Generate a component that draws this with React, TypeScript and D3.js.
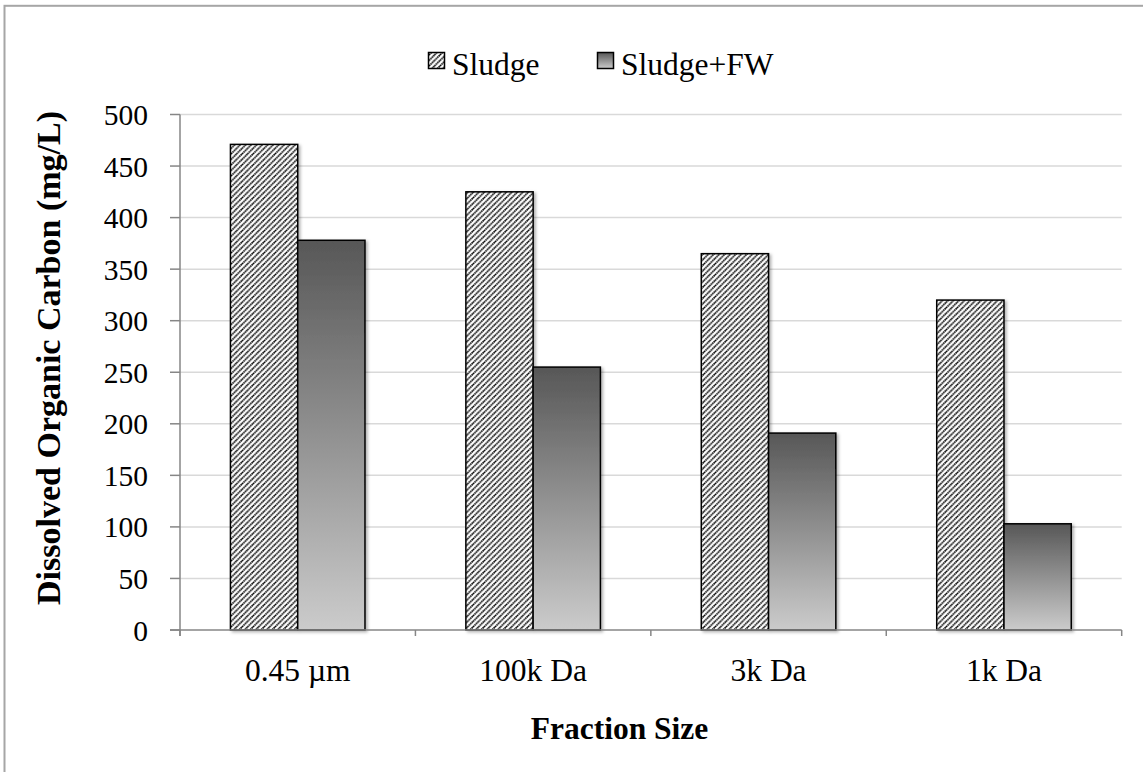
import React from "react";
import * as d3 from "d3";

const categories = ["0.45 µm", "100k Da", "3k Da", "1k Da"];
const seriesNames = ["Sludge", "Sludge+FW"];
const sludge = [471, 425, 365, 320];
const sludgeFW = [378, 255, 191, 103];
const yTicks = [0, 50, 100, 150, 200, 250, 300, 350, 400, 450, 500];

const W = 1143;
const H = 772;
const plot = { left: 180, right: 1121.7, top: 114.5, bottom: 630 };
const FONT = "'Liberation Serif', 'Times New Roman', serif";

export default function App() {
  const x = d3
    .scaleBand<string>()
    .domain(categories)
    .range([plot.left, plot.right])
    .paddingInner(0)
    .paddingOuter(0);
  const y = d3.scaleLinear().domain([0, 500]).range([plot.bottom, plot.top]);

  const step = x.step();
  const barW = step / 3.5; // two bars plus a 150% gap
  const boundaries = d3.range(categories.length + 1).map((i) => plot.left + i * step);

  return (
    <svg
      width={W}
      height={H}
      style={{ position: "absolute", left: 0, top: 0, background: "#fff" }}
      fontFamily={FONT}
    >
      <defs>
        <pattern id="hatch" patternUnits="userSpaceOnUse" width={5.5} height={5.5}>
          <rect width={5.5} height={5.5} fill="#fff" />
          <path
            d="M-1,1 L1,-1 M0,5.5 L5.5,0 M4.5,6.5 L6.5,4.5"
            stroke="#000"
            strokeWidth={1.7}
            strokeDasharray="1.5 0.5"
          />
        </pattern>
        <linearGradient id="fwGrad" x1="0" y1="0" x2="0" y2="1">
          <stop offset="0" stopColor="#575757" />
          <stop offset="1" stopColor="#cbcbcb" />
        </linearGradient>
        <filter id="shadow" x="-20%" y="-20%" width="140%" height="140%">
          <feDropShadow dx="2" dy="1.5" stdDeviation="1.5" floodColor="#000" floodOpacity="0.3" />
        </filter>
      </defs>

      {/* chart area frame */}
      <rect x={4.5} y={5.8} width={W + 20} height={H + 20} fill="none" stroke="#a6a6a6" strokeWidth={2} />

      {/* gridlines */}
      {yTicks
        .filter((t) => t > 0)
        .map((t) => (
          <line key={t} x1={plot.left} x2={plot.right} y1={y(t)} y2={y(t)} stroke="#d9d9d9" strokeWidth={1.5} />
        ))}

      {/* bars */}
      {categories.map((c, i) => {
        const cx = (x(c) as number) + step / 2;
        return (
          <g key={c} filter="url(#shadow)">
            <rect
              x={cx - barW}
              y={y(sludge[i])}
              width={barW}
              height={y(0) - y(sludge[i])}
              fill="url(#hatch)"
              stroke="#000"
              strokeWidth={1.5}
            />
            <rect
              x={cx}
              y={y(sludgeFW[i])}
              width={barW}
              height={y(0) - y(sludgeFW[i])}
              fill="url(#fwGrad)"
              stroke="#000"
              strokeWidth={1.5}
            />
          </g>
        );
      })}

      {/* axes */}
      <line x1={plot.left} x2={plot.left} y1={plot.top} y2={plot.bottom + 6} stroke="#868686" strokeWidth={1.5} />
      <line x1={plot.left - 10} x2={plot.right} y1={plot.bottom} y2={plot.bottom} stroke="#868686" strokeWidth={1.5} />
      {yTicks.map((t) => (
        <g key={t}>
          <line x1={plot.left - 10} x2={plot.left} y1={y(t)} y2={y(t)} stroke="#868686" strokeWidth={1.5} />
          <text x={148} y={y(t) + 10.5} textAnchor="end" fontSize={29.5} fill="#000">
            {t}
          </text>
        </g>
      ))}
      {boundaries.map((bx, i) => (
        <line key={i} x1={bx} x2={bx} y1={plot.bottom} y2={plot.bottom + 6} stroke="#868686" strokeWidth={1.5} />
      ))}
      {categories.map((c) => (
        <text
          key={c}
          x={(x(c) as number) + step / 2}
          y={681}
          textAnchor="middle"
          fontSize={31.5}
          fill="#000"
        >
          {c}
        </text>
      ))}

      {/* axis titles */}
      <text x={619.5} y={739} textAnchor="middle" fontSize={31.5} fontWeight="bold" fill="#000">
        Fraction Size
      </text>
      <text
        transform={`translate(60,358) rotate(-90)`}
        textAnchor="middle"
        fontSize={34}
        fontWeight="bold"
        fill="#000"
      >
        Dissolved Organic Carbon (mg/L)
      </text>

      {/* legend */}
      <g>
        <rect x={428.5} y={52.5} width={16} height={16} fill="url(#hatch)" stroke="#000" strokeWidth={1.5} />
        <text x={452} y={75} fontSize={31.5} fill="#000">
          {seriesNames[0]}
        </text>
        <rect x={597.5} y={52.5} width={16} height={16} fill="url(#fwGrad)" stroke="#000" strokeWidth={1.5} />
        <text x={621} y={75} fontSize={31.5} fill="#000">
          {seriesNames[1]}
        </text>
      </g>
    </svg>
  );
}
